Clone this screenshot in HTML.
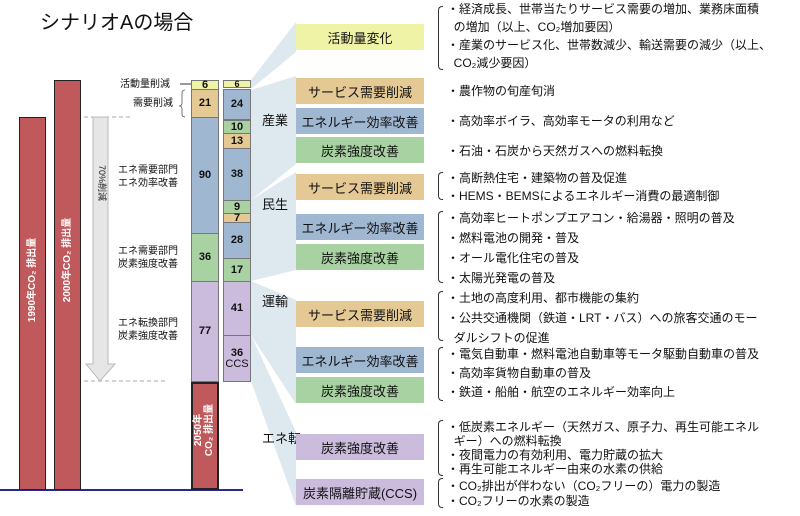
<!DOCTYPE html>
<html><head><meta charset="utf-8"><style>
*{margin:0;padding:0;box-sizing:border-box}
body{width:800px;height:516px;background:#fff;position:relative;overflow:hidden;font-family:"Liberation Sans","Noto Sans CJK JP",sans-serif;color:#111}
.a{position:absolute}
.seg{position:absolute;display:flex;align-items:center;justify-content:center;font-weight:bold;font-size:11px;border:1px solid #777;flex-direction:column;line-height:11px}
.y{background:#eef3a6}.t{background:#e5c995}.b{background:#9fb7d1}.g{background:#a9d2a3}.p{background:#cbbcdd}
.box{position:absolute;left:296px;width:128px;height:26px;display:flex;align-items:center;justify-content:center;font-size:13px}
.tx{position:absolute;font-size:12px;line-height:18px;white-space:nowrap}
.lbl{position:absolute;font-size:10px;text-align:right;line-height:13px;white-space:nowrap}
.sec{position:absolute;font-size:13px}
.rt{position:absolute;color:#fff;font-size:10px;font-weight:bold;white-space:nowrap;transform-origin:0 0;text-align:center;line-height:11px}
.brace{position:absolute;border:1px solid #333;border-right:none;width:5px;border-radius:4px 0 0 4px}
</style></head><body>
<svg class="a" style="left:0;top:0" width="800" height="516">
<g fill="#dde8ef">
<polygon points="251,80 296,22 296,52 251,89"/>
<polygon points="251,90 296,76 296,110 251,120"/>
<polygon points="251,120 296,110 296,164 251,200"/>
<polygon points="251,200 296,172 296,270 251,281"/>
<polygon points="251,281 296,300 296,404 251,335"/>
<polygon points="251,335 296,432 296,506 251,381"/>
</g>
<line x1="0" y1="490" x2="243" y2="490" stroke="#2a2a8a" stroke-width="2"/>
<line x1="84" y1="117" x2="133" y2="117" stroke="#aaa" stroke-dasharray="4,3"/>
<line x1="84" y1="381" x2="168" y2="381" stroke="#aaa" stroke-dasharray="4,3"/>
<polygon points="93,117 108,117 108,364 115,364 100,381 86,364 93,364" fill="#e6e6e6" stroke="#bbb"/>
<path d="M185,90 q-3,0 -3,3 v10 q0,3 -3,3 q3,0 3,3 v5 q0,3 3,3" fill="none" stroke="#555" stroke-width="0.8"/>
<line x1="180" y1="84" x2="191" y2="84" stroke="#333"/>
</svg>
<div class="a" style="left:40px;top:6px;font-size:20px">シナリオAの場合</div>
<div class="a" style="left:19px;top:117px;width:27px;height:373px;background:#c0595b;border:1px solid #222"></div>
<div class="a" style="left:54px;top:80px;width:27px;height:410px;background:#c0595b;border:1px solid #222"></div>
<div class="rt" style="left:27px;top:335px;width:110px;transform:rotate(-90deg)">1990年CO₂ 排出量</div>
<div class="rt" style="left:62px;top:315px;width:110px;transform:rotate(-90deg)">2000年CO₂ 排出量</div>
<div class="rt" style="left:107px;top:165px;width:60px;color:#222;font-weight:normal;font-size:9px;transform:rotate(90deg);text-align:left">70%削減</div>
<div class="lbl" style="left:120px;top:78px">活動量削減</div>
<div class="lbl" style="left:133px;top:97px">需要削減</div>
<div class="lbl" style="left:118px;top:164px">エネ需要部門<br>エネ効率改善</div>
<div class="lbl" style="left:118px;top:245px">エネ需要部門<br>炭素強度改善</div>
<div class="lbl" style="left:118px;top:317px">エネ転換部門<br>炭素強度改善</div>
<div class="seg y" style="left:191px;top:80px;width:28px;height:10px">6</div>
<div class="seg t" style="left:191px;top:89px;width:28px;height:29px">21</div>
<div class="seg b" style="left:191px;top:117px;width:28px;height:117px">90</div>
<div class="seg g" style="left:191px;top:233px;width:28px;height:49px">36</div>
<div class="seg p" style="left:191px;top:281px;width:28px;height:101px">77</div>
<div class="a" style="left:191px;top:382px;width:28px;height:108px;background:#c0595b;border:2px solid #222"></div>
<div class="rt" style="left:193px;top:465px;width:70px;transform:rotate(-90deg)">2050年<br>CO₂ 排出量</div>
<div class="seg y" style="left:223px;top:80px;width:28px;height:8px;font-size:9px">6</div>
<div class="seg b" style="left:223px;top:89px;width:28px;height:31px">24</div>
<div class="seg g" style="left:223px;top:120px;width:28px;height:14px">10</div>
<div class="seg t" style="left:223px;top:133px;width:28px;height:16px">13</div>
<div class="seg b" style="left:223px;top:148px;width:28px;height:53px">38</div>
<div class="seg g" style="left:223px;top:200px;width:28px;height:14px">9</div>
<div class="seg t" style="left:223px;top:213px;width:28px;height:10px">7</div>
<div class="seg b" style="left:223px;top:222px;width:28px;height:37px">28</div>
<div class="seg g" style="left:223px;top:258px;width:28px;height:24px">17</div>
<div class="seg p" style="left:223px;top:281px;width:28px;height:55px">41</div>
<div class="seg p" style="left:223px;top:335px;width:28px;height:47px">36<br><span style="font-weight:normal">CCS</span></div>
<div class="sec" style="left:262px;top:110px">産業</div>
<div class="sec" style="left:262px;top:194px">民生</div>
<div class="sec" style="left:262px;top:291px">運輸</div>
<div class="sec" style="left:262px;top:428px">エネ転</div>
<div class="box y" style="top:24px">活動量変化</div>
<div class="box t" style="top:78px">サービス需要削減</div>
<div class="box b" style="top:108px">エネルギー効率改善</div>
<div class="box g" style="top:137px">炭素強度改善</div>
<div class="box t" style="top:174px">サービス需要削減</div>
<div class="box b" style="top:214px">エネルギー効率改善</div>
<div class="box g" style="top:244px">炭素強度改善</div>
<div class="box t" style="top:301px">サービス需要削減</div>
<div class="box b" style="top:347px">エネルギー効率改善</div>
<div class="box g" style="top:377px">炭素強度改善</div>
<div class="box p" style="top:434px">炭素強度改善</div>
<div class="box p" style="top:479px">炭素隔離貯蔵(CCS)</div>
<div class="brace" style="left:438px;top:6px;height:64px"></div>
<div class="brace" style="left:438px;top:172px;height:28px"></div>
<div class="brace" style="left:438px;top:211px;height:72px"></div>
<div class="brace" style="left:438px;top:291px;height:50px"></div>
<div class="brace" style="left:438px;top:347px;height:54px"></div>
<div class="brace" style="left:438px;top:420px;height:56px"></div>
<div class="brace" style="left:438px;top:478px;height:30px"></div>
<div class="tx" style="left:447px;top:0px">・経済成長、世帯当たりサービス需要の増加、業務床面積<br>&nbsp;&nbsp;の増加（以上、CO₂増加要因）<br>・産業のサービス化、世帯数減少、輸送需要の減少（以上、<br>&nbsp;&nbsp;CO₂減少要因）</div>
<div class="tx" style="left:447px;top:82px">・農作物の旬産旬消</div>
<div class="tx" style="left:447px;top:112px">・高効率ボイラ、高効率モータの利用など</div>
<div class="tx" style="left:447px;top:142px">・石油・石炭から天然ガスへの燃料転換</div>
<div class="tx" style="left:447px;top:169px">・高断熱住宅・建築物の普及促進<br>・HEMS・BEMSによるエネルギー消費の最適制御</div>
<div class="tx" style="left:447px;top:208px;line-height:20px">・高効率ヒートポンプエアコン・給湯器・照明の普及<br>・燃料電池の開発・普及<br>・オール電化住宅の普及<br>・太陽光発電の普及</div>
<div class="tx" style="left:447px;top:288px;line-height:20px">・土地の高度利用、都市機能の集約<br>・公共交通機関（鉄道・LRT・バス）への旅客交通のモー<br>&nbsp;&nbsp;ダルシフトの促進</div>
<div class="tx" style="left:447px;top:345px;line-height:19px">・電気自動車・燃料電池自動車等モータ駆動自動車の普及<br>・高効率貨物自動車の普及<br>・鉄道・船舶・航空のエネルギー効率向上</div>
<div class="tx" style="left:447px;top:420px;line-height:14px">・低炭素エネルギー（天然ガス、原子力、再生可能エネル<br>&nbsp;&nbsp;ギー）への燃料転換<br>・夜間電力の有効利用、電力貯蔵の拡大<br>・再生可能エネルギー由来の水素の供給</div>
<div class="tx" style="left:447px;top:479px;line-height:15px">・CO₂排出が伴わない（CO₂フリーの）電力の製造<br>・CO₂フリーの水素の製造</div>
</body></html>
